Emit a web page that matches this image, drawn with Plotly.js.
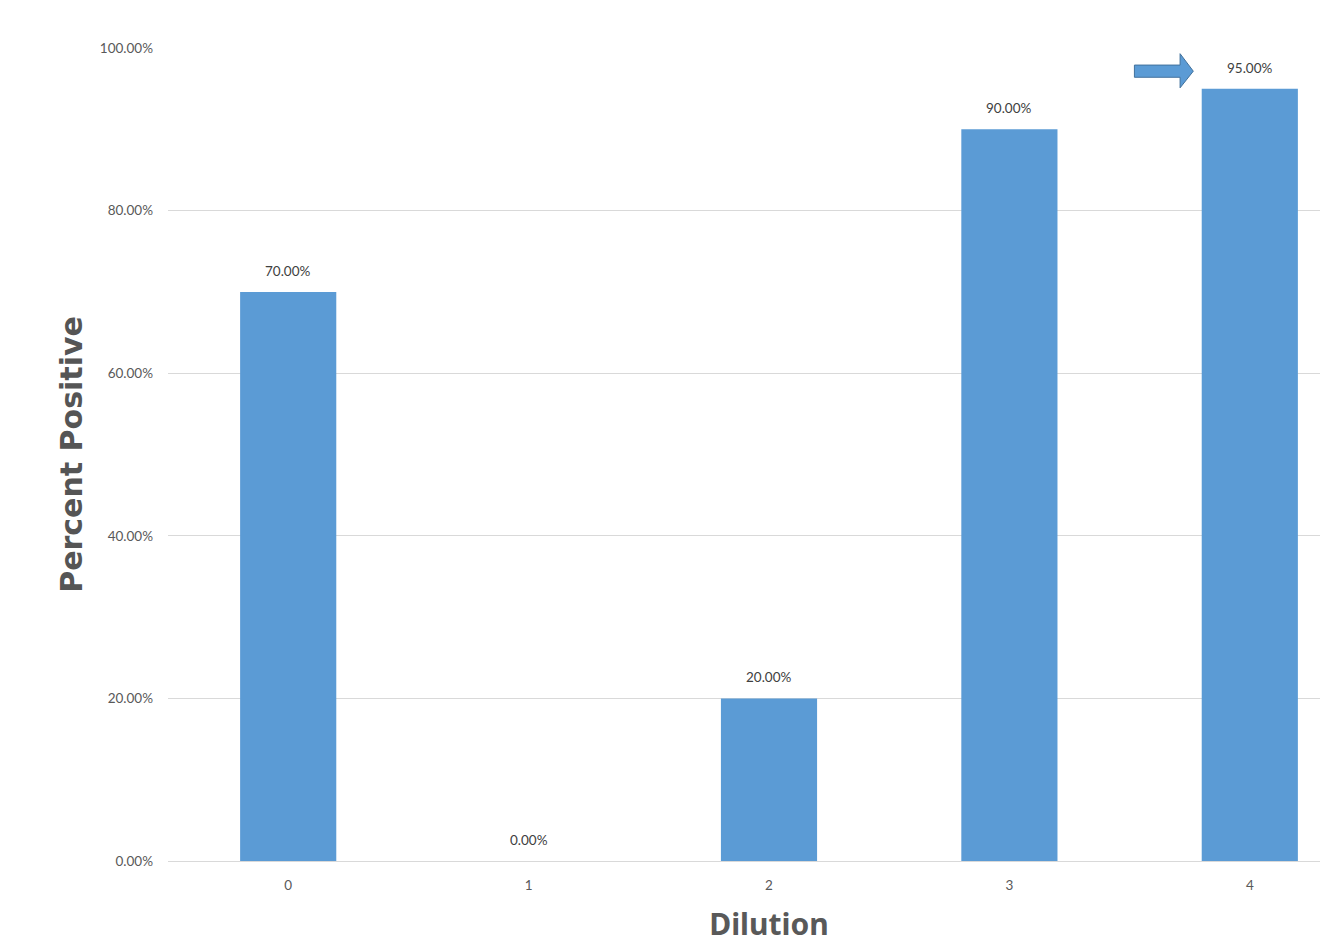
<!DOCTYPE html>
<html>
<head>
<meta charset="utf-8">
<script src="https://cdn.plot.ly/plotly-3.0.1.min.js"></script>
<style>
html,body{margin:0;padding:0;overflow:hidden;background:#fff;}
#chart{width:1370px;height:944px;}
</style>
</head>
<body>
<div id="chart"></div>
<script>
const categories = ["0", "1", "2", "3", "4"];
const percentPositive = [0.70, 0.00, 0.20, 0.90, 0.95];
const yTicks = [0, 0.2, 0.4, 0.6, 0.8, 1.0];

const tickFamily = "Lato, 'Open Sans', sans-serif";
const labelFont = {family: tickFamily, size: 13.5, color: '#404040'};

const trace = {
  type: 'bar',
  x: categories,
  y: percentPositive,
  width: 0.4,
  marker: {color: '#5b9bd5'},
  hoverinfo: 'x+y'
};

const annotations = categories.map((c, i) => ({
  x: c, y: percentPositive[i], xref: 'x', yref: 'y',
  text: (percentPositive[i] * 100).toFixed(2) + '%',
  showarrow: false, yanchor: 'bottom', yshift: 11,
  font: labelFont
}));

const layout = {
  width: 1370, height: 944,
  margin: {l: 168, r: 0, t: 48, b: 83},
  paper_bgcolor: '#fff', plot_bgcolor: '#fff',
  showlegend: false,
  bargap: 0.6,
  xaxis: {
    type: 'category',
    range: [-0.5, 4.5],
    showgrid: false, zeroline: false,
    showline: true, linecolor: '#d9d9d9', linewidth: 1,
    ticks: '', ticklabelstandoff: 12,
    tickfont: {family: tickFamily, size: 13.5, color: '#595959'},
    title: {text: 'Dilution', standoff: 26,
      font: {family: "'Noto Sans', 'Open Sans', sans-serif", size: 30, color: '#595959', weight: 'bold'}}
  },
  yaxis: {
    range: [0, 1], tickvals: yTicks, tickformat: '.2%',
    showgrid: true, gridcolor: '#d9d9d9', gridwidth: 1,
    zeroline: false, showline: false, ticks: '', ticklabelstandoff: 14,
    tickfont: {family: tickFamily, size: 13.5, color: '#595959'},
    title: {text: 'Percent Positive', standoff: 8,
      font: {family: "'DejaVu Sans', 'Open Sans', sans-serif", size: 30, color: '#555555', weight: 'bold'}}
  },
  annotations: annotations,
  shapes: [{
    type: 'path', xref: 'x', yref: 'y',
    path: 'M 3.52 0.979 L 3.71 0.979 L 3.71 0.993 L 3.765 0.9715 L 3.71 0.951 L 3.71 0.964 L 3.52 0.964 Z',
    fillcolor: '#5b9bd5', line: {color: '#41719c', width: 1}
  }]
};

Plotly.newPlot('chart', [trace], layout, {displayModeBar: false, responsive: false});
</script>
</body>
</html>
